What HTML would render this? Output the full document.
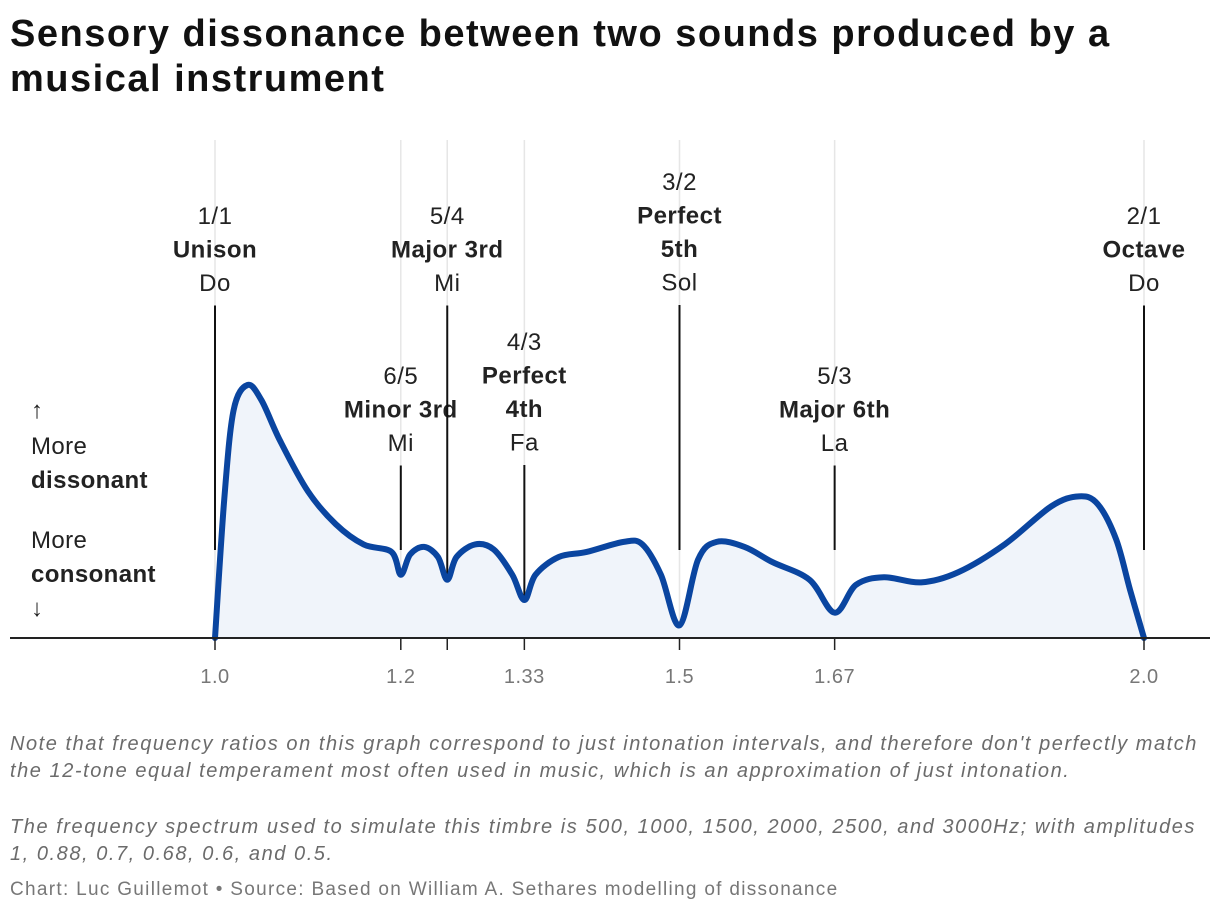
<!DOCTYPE html>
<html><head><meta charset="utf-8">
<style>
body{margin:0;background:#fff;font-family:"Liberation Sans",sans-serif;}
#wrap{position:relative;width:1220px;height:916px;overflow:hidden;}
h1{position:absolute;left:10px;top:12px;margin:0;font-size:38px;line-height:45px;font-weight:bold;color:#111;width:1210px;letter-spacing:1.5px;white-space:nowrap}
.note{position:absolute;left:10px;font-size:20px;line-height:27px;font-style:italic;color:#6b6b6b;width:1215px;letter-spacing:1.55px;white-space:nowrap}
.src{position:absolute;left:10px;top:879px;font-size:19px;color:#777;letter-spacing:1.3px;white-space:nowrap}
</style></head><body>
<div id="wrap">
<h1>Sensory dissonance between two sounds produced by a<br>musical instrument</h1>
<svg id="chart" width="1220" height="916" style="position:absolute;left:0;top:0"></svg>
<div class="note" style="top:731px">Note that frequency ratios on this graph correspond to just intonation intervals, and therefore don't perfectly match<br>the 12-tone equal temperament most often used in music, which is an approximation of just intonation.</div>
<div class="note" style="top:814px">The frequency spectrum used to simulate this timbre is 500, 1000, 1500, 2000, 2500, and 3000Hz; with amplitudes<br>1, 0.88, 0.7, 0.68, 0.6, and 0.5.</div>
<div class="src">Chart: Luc Guillemot • Source: Based on William A. Sethares modelling of dissonance</div>
</div>
<script>
const ratios=[1.0,1.01,1.02,1.035,1.05,1.07,1.1,1.13,1.16,1.19,1.2,1.21,1.225,1.24,1.25,1.26,1.28,1.3,1.32,1.333,1.345,1.37,1.4,1.44,1.46,1.48,1.5,1.52,1.54,1.57,1.6,1.64,1.667,1.69,1.72,1.76,1.8,1.85,1.9,1.93,1.95,1.97,1.985,2.0];
const dissonance=[0,0.55,0.9,1.0,0.94,0.78,0.58,0.45,0.37,0.34,0.25,0.33,0.36,0.32,0.23,0.32,0.37,0.35,0.25,0.15,0.25,0.32,0.34,0.38,0.37,0.25,0.05,0.31,0.38,0.36,0.3,0.23,0.10,0.21,0.24,0.22,0.26,0.37,0.52,0.56,0.53,0.39,0.19,0];
const tickValues=[1.0,1.2,1.25,1.333,1.5,1.667,2.0];
const tickLabels=["1.0","1.2","","1.33","1.5","1.67","2.0"];
const intervalRatios=[1.0,1.2,1.25,1.333,1.5,1.667,2.0];
const intervalFractions=["1/1","6/5","5/4","4/3","3/2","5/3","2/1"];
const intervalNames=[["Unison"],["Minor 3rd"],["Major 3rd"],["Perfect","4th"],["Perfect","5th"],["Major 6th"],["Octave"]];
const intervalNotes=["Do","Mi","Mi","Fa","Sol","La","Do"];
const intervalTop=[215,375,215,341,181,375,215];
const intervalLineEnd=[550,550,580,600,550,550,550];

const NS="http://www.w3.org/2000/svg";
const svg=document.getElementById('chart');
const X=v=>215+(v-1)*929;
const Y=v=>638-v*253;
function mk(t,a,p){const e=document.createElementNS(NS,t);for(const k in a)e.setAttribute(k,a[k]);(p||svg).appendChild(e);return e;}

tickValues.forEach((v,i)=>{
  const g=mk('line',{x1:X(v),x2:X(v),y1:140,y2:638,stroke:'#e6e6e6','stroke-width':1.5});
  
  
});

const pts=ratios.map((r,i)=>[X(r),Y(dissonance[i])]);
let d=`M${pts[0][0]},${pts[0][1]}`;
for(let i=0;i<pts.length-1;i++){
  const p0=pts[Math.max(0,i-1)],p1=pts[i],p2=pts[i+1],p3=pts[Math.min(pts.length-1,i+2)];
  const t=0.5/3;
  const c1=[p1[0]+(p2[0]-p0[0])*t,p1[1]+(p2[1]-p0[1])*t];
  const c2=[p2[0]-(p3[0]-p1[0])*t,p2[1]-(p3[1]-p1[1])*t];
  d+=`C${c1[0]},${c1[1]} ${c2[0]},${c2[1]} ${p2[0]},${p2[1]}`;
}
const area=mk('path',{d:d+`L${X(2)},${Y(0)}L${X(1)},${Y(0)}Z`,fill:'#f0f4fa'});



intervalRatios.forEach((r,i)=>{
  const x=X(r);
  let y=intervalTop[i];
  const lines=[[intervalFractions[i],'normal']].concat(intervalNames[i].map(n=>[n,'bold'])).concat([[intervalNotes[i],'normal']]);
  lines.forEach(([s,w])=>{
    const t=mk('text',{x:x,y:y+9,'text-anchor':'middle','font-size':24,'font-weight':w,fill:'#222','letter-spacing':'0.5px'});
    t.textContent=s;
    
    
    y+=33.5;
  });
  const l=mk('line',{x1:x,x2:x,y1:y-10,y2:intervalLineEnd[i],stroke:'#111','stroke-width':2});
  
  
});

const line=mk('path',{d:d,fill:'none',stroke:'#0a45a0','stroke-width':6,'stroke-linejoin':'round','stroke-linecap':'round'});



const ax=mk('line',{x1:10,x2:1210,y1:638,y2:638,stroke:'#222','stroke-width':2});


tickValues.forEach((v,i)=>{
  const tk=mk('line',{x1:X(v),x2:X(v),y1:638,y2:650,stroke:'#222','stroke-width':1.5});
  
  
  const t=mk('text',{x:X(v),y:683,'text-anchor':'middle','font-size':20,fill:'#777','letter-spacing':'0.5px'});
  t.textContent=tickLabels[i];
  
  
});

[["↑",418,'normal'],["More",454,'normal'],["dissonant",488,'bold'],["More",548,'normal'],["consonant",582,'bold'],["↓",616,'normal']].forEach(([s,y,w])=>{
  const t=mk('text',{x:31,y:y,'font-size':24,'font-weight':w,fill:'#222','letter-spacing':'0.4px'});
  t.textContent=s;
  
  
});
</script>
</body></html>
